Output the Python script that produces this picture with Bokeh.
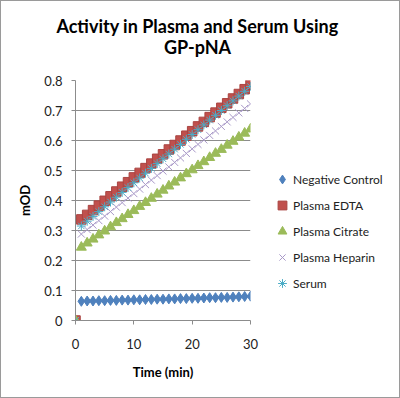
from bokeh.plotting import figure
from bokeh.layouts import row, column
from bokeh.models import Legend, LegendItem, Label, FixedTicker, Range1d
from bokeh.embed import file_html
from bokeh.resources import INLINE

# ---- data ----
time_min = [0, 1, 2, 3, 4, 5, 6, 7, 8, 9, 10, 11, 12, 13, 14, 15, 16, 17, 18, 19, 20,
            21, 22, 23, 24, 25, 26, 27, 28, 29, 30]
negative_control = [0.0, 0.064, 0.065, 0.065, 0.066, 0.066, 0.067, 0.067, 0.068, 0.068, 0.069,
                    0.069, 0.070, 0.070, 0.071, 0.071, 0.072, 0.072, 0.073, 0.073, 0.074,
                    0.074, 0.075, 0.076, 0.076, 0.077, 0.077, 0.078, 0.079, 0.080, 0.081]
plasma_edta = [0.0, 0.337, 0.352, 0.368, 0.383, 0.399, 0.414, 0.430, 0.446, 0.461, 0.477,
               0.492, 0.508, 0.523, 0.539, 0.554, 0.570, 0.585, 0.600, 0.616, 0.631,
               0.647, 0.662, 0.678, 0.693, 0.709, 0.724, 0.740, 0.755, 0.771, 0.786]
plasma_citrate = [0.0, 0.244, 0.258, 0.271, 0.285, 0.298, 0.312, 0.326, 0.339, 0.353, 0.366,
                  0.380, 0.393, 0.407, 0.421, 0.434, 0.448, 0.461, 0.475, 0.489, 0.502,
                  0.516, 0.529, 0.543, 0.557, 0.570, 0.584, 0.597, 0.611, 0.624, 0.638]
plasma_heparin = [0.0, 0.288, 0.303, 0.318, 0.333, 0.348, 0.363, 0.378, 0.393, 0.408, 0.423,
                  0.438, 0.453, 0.468, 0.483, 0.498, 0.512, 0.527, 0.542, 0.557, 0.572,
                  0.587, 0.602, 0.617, 0.632, 0.647, 0.662, 0.677, 0.692, 0.707, 0.722]
serum = [0.0, 0.315, 0.331, 0.347, 0.363, 0.379, 0.395, 0.411, 0.427, 0.443, 0.459,
         0.475, 0.491, 0.507, 0.523, 0.539, 0.555, 0.571, 0.587, 0.604, 0.620,
         0.636, 0.652, 0.668, 0.684, 0.700, 0.716, 0.732, 0.748, 0.764, 0.780]

series_names = ["Negative Control", "Plasma EDTA", "Plasma Citrate", "Plasma Heparin", "Serum"]
series_values = [negative_control, plasma_edta, plasma_citrate, plasma_heparin, serum]
title_lines = ["Activity in Plasma and Serum Using", "GP-pNA"]
x_ticks = [0, 10, 20, 30]
y_ticks = [0, 0.1, 0.2, 0.3, 0.4, 0.5, 0.6, 0.7, 0.8]
y_tick_labels = ["0", "0.1", "0.2", "0.3", "0.4", "0.5", "0.6", "0.7", "0.8"]

FONT = "Lato"
GRID = "#8c8c8c"

styles = [
    dict(marker="diamond", size=10, fill_color="#4F81BD", line_color="#4F81BD"),
    dict(marker="square", size=9.5, fill_color="#C0504D", line_color="#A94441"),
    dict(marker="triangle", size=10, fill_color="#9BBB59", line_color="#9BBB59"),
    dict(marker="x", size=10, line_color="#A898C8", line_width=1),
    dict(marker="asterisk", size=9, line_color="#4BACC6", line_width=1),
]

TOP_H = 62

# ---- title canvas ----
t = figure(width=400, height=TOP_H, output_backend="svg", toolbar_location=None,
           x_axis_type=None, y_axis_type=None, min_border=0,
           x_range=Range1d(0, 1), y_range=Range1d(0, 1))
t.outline_line_color = None
t.grid.visible = False
t.background_fill_color = None
t.border_fill_color = None
for txt, yy in zip(title_lines, [TOP_H - 25, TOP_H - 46]):
    t.add_layout(Label(x=197, y=yy, x_units="screen", y_units="screen", text=txt,
                       text_align="center", text_baseline="middle",
                       text_font=FONT, text_font_size="18px", text_font_style="bold",
                       text_color="#000000"))

# ---- main plot ----
p = figure(width=260, height=398 - TOP_H, output_backend="svg", toolbar_location=None,
           x_range=(0, 30), y_range=(0, 0.8),
           min_border_left=75, min_border_right=10, min_border_top=80 - TOP_H,
           min_border_bottom=78)
p.outline_line_color = None
p.background_fill_color = "white"
p.border_fill_color = None

p.xgrid.grid_line_color = None
p.ygrid.grid_line_color = GRID
p.ygrid.grid_line_width = 1

p.xaxis.ticker = FixedTicker(ticks=x_ticks)
p.yaxis.ticker = FixedTicker(ticks=y_ticks)
p.yaxis.major_label_overrides = {tk: lb for tk, lb in zip(y_ticks, y_tick_labels)}
for ax in (p.xaxis, p.yaxis):
    ax.axis_line_color = GRID
    ax.major_tick_line_color = GRID
    ax.major_tick_out = 4
    ax.major_tick_in = 0
    ax.minor_tick_line_color = None
    ax.major_label_text_font = FONT
    ax.major_label_text_font_size = "13px"
    ax.major_label_text_color = "#222222"
    ax.axis_label_text_font = FONT
    ax.axis_label_text_font_size = "13px"
    ax.axis_label_text_font_style = "bold"
    ax.axis_label_text_color = "#000000"
p.xaxis.major_label_standoff = 14
p.yaxis.major_label_standoff = 9
p.xaxis.axis_label = "Time (min)"
p.yaxis.axis_label = "mOD"
p.xaxis.axis_label_standoff = 12
p.yaxis.axis_label_standoff = 8

for vals, st in zip(series_values, styles):
    p.scatter(time_min, vals, **st)

# ---- legend canvas (its renderers hold the data but lie outside its visible range) ----
q = figure(width=140, height=398 - TOP_H, output_backend="svg", toolbar_location=None,
           x_axis_type=None, y_axis_type=None, min_border=0,
           x_range=Range1d(1000, 1001), y_range=Range1d(1000, 1001))
q.outline_line_color = None
q.grid.visible = False
q.background_fill_color = None
q.border_fill_color = None
legend_renderers = [q.scatter(time_min, vals, **st) for vals, st in zip(series_values, styles)]
legend = Legend(items=[LegendItem(label=n, renderers=[r]) for n, r in
                       zip(series_names, legend_renderers)],
                location=(11, 26), orientation="vertical",
                label_text_font=FONT, label_text_font_size="12px", label_text_color="#222222",
                glyph_width=22, glyph_height=22, label_height=20, spacing=4,
                label_standoff=0, padding=0, margin=0,
                border_line_color=None, background_fill_alpha=0)
q.add_layout(legend, "center")

layout = column(t, row(p, q),
                styles={"box-shadow": "inset 0 0 0 1px #9a9a9a", "background": "white"})
open("out.html", "w").write(file_html(layout, INLINE))
